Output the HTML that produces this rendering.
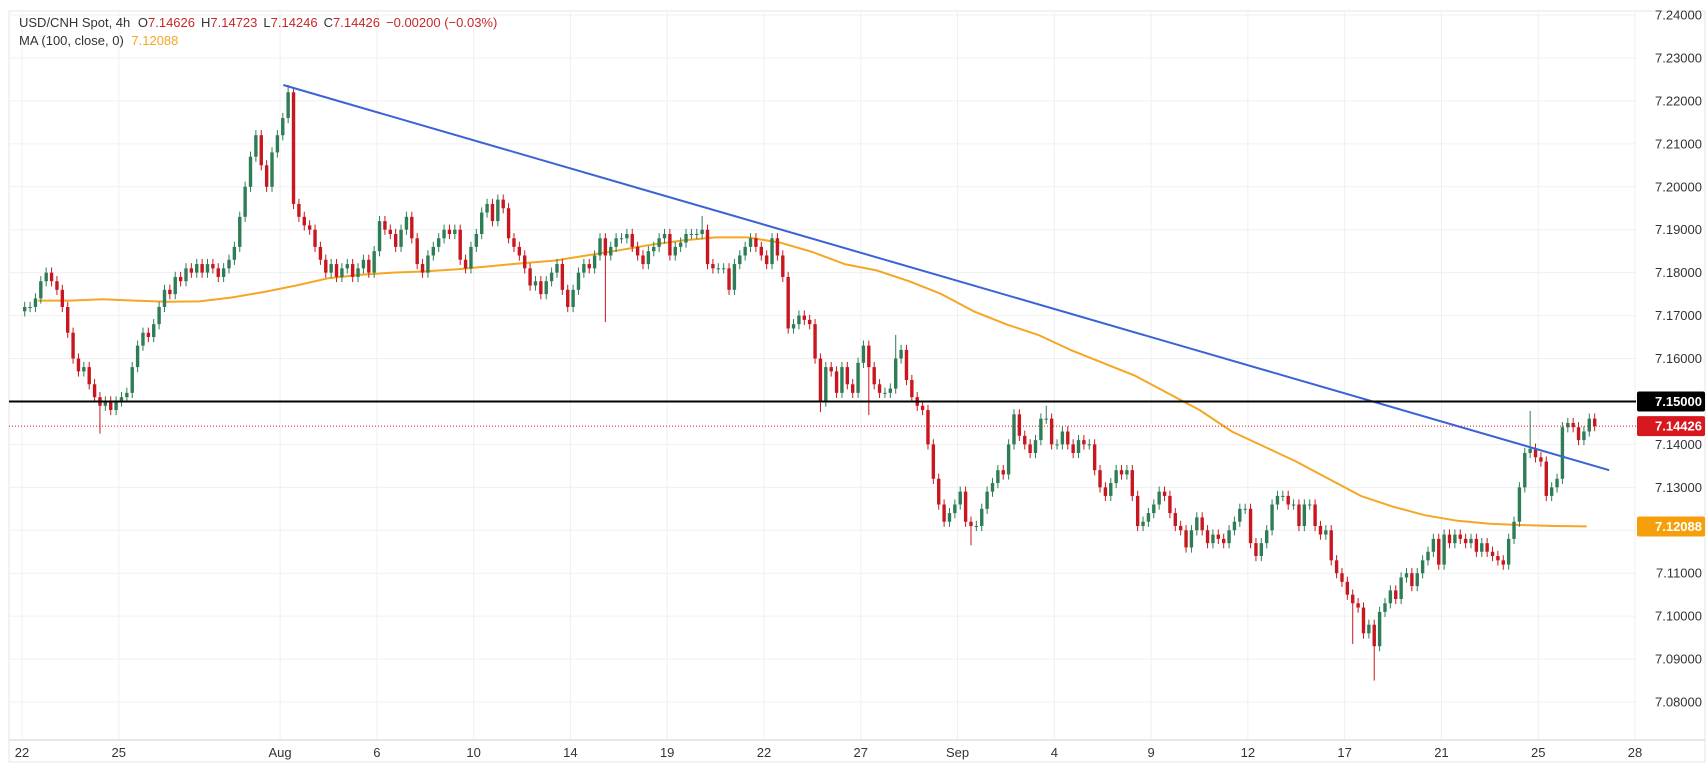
<!DOCTYPE html>
<html><head><meta charset="utf-8">
<style>
html,body{margin:0;padding:0;background:#fff;}
svg{display:block;font-family:"Liberation Sans",sans-serif;}
</style></head>
<body>
<svg id="chart" width="1708" height="778" viewBox="0 0 1708 778" xmlns="http://www.w3.org/2000/svg">
<rect x="9" y="11" width="1696" height="751" fill="#fff" stroke="#e6e6e6"/>
<g id="grid"></g>
<g id="ma"></g>
<g id="candles"></g>
<g id="lines"></g>
<g id="yaxis"></g>
<g id="xaxis"></g>
<g font-size="13">
<text x="19" y="27" fill="#333">USD/CNH Spot, 4h <tspan dx="4">O</tspan><tspan fill="#c62828">7.14626</tspan><tspan dx="6">H</tspan><tspan fill="#c62828">7.14723</tspan><tspan dx="6">L</tspan><tspan fill="#c62828">7.14246</tspan><tspan dx="6">C</tspan><tspan fill="#c62828">7.14426</tspan><tspan dx="6" fill="#c62828">−0.00200 (−0.03%)</tspan></text>
<text x="19" y="45" fill="#333">MA (100, close, 0) <tspan dx="4" fill="#f5a623">7.12088</tspan></text>
</g>
</svg>
<script>
const closes = [
7.172,7.172,7.174,7.178,7.180,7.178, 7.176,7.172,7.166,7.160,7.157,7.158,
7.154,7.151,7.149,7.150,7.148,7.150, 7.151,7.152,7.158,7.163,7.166,7.165,
7.168,7.172,7.176,7.175,7.179,7.178, 7.181,7.180,7.182,7.180,7.182,7.181,
7.179,7.181,7.183,7.186,7.193,7.200, 7.207,7.212,7.205,7.200,7.208,7.212,
7.216,7.222,7.196,7.193,7.191,7.190, 7.186,7.183,7.180,7.182,7.179,7.181,
7.182,7.179,7.181,7.183,7.180,7.185, 7.192,7.190,7.189,7.186,7.190,7.193,
7.188,7.182,7.180,7.184,7.186,7.188, 7.190,7.189,7.190,7.183,7.181,7.186,
7.189,7.194,7.196,7.192,7.197,7.195, 7.188,7.186,7.184,7.181,7.177,7.178,
7.175,7.178,7.180,7.182,7.176,7.172, 7.176,7.180,7.182,7.181,7.184,7.188,
7.184,7.186,7.188,7.188,7.189,7.186, 7.184,7.182,7.185,7.186,7.188,7.189,
7.184,7.186,7.187,7.189,7.189,7.189, 7.190,7.182,7.181,7.181,7.181,7.176,
7.182,7.184,7.186,7.188,7.186,7.184, 7.182,7.188,7.184,7.179,7.167,7.168,
7.170,7.169,7.168,7.160,7.150,7.158, 7.157,7.152,7.158,7.154,7.152,7.159,
7.163,7.158,7.154,7.152,7.152,7.153, 7.160,7.162,7.155,7.151,7.149,7.148,
7.140,7.132,7.126,7.122,7.124,7.126, 7.129,7.122,7.121,7.121,7.125,7.129,
7.131,7.134,7.133,7.140,7.147,7.142, 7.140,7.138,7.141,7.146,7.146,7.140,
7.140,7.143,7.140,7.138,7.141,7.140, 7.140,7.134,7.130,7.128,7.131,7.134,
7.133,7.134,7.128,7.121,7.122,7.124, 7.126,7.129,7.128,7.124,7.121,7.120,
7.116,7.120,7.123,7.120,7.117,7.119, 7.118,7.117,7.120,7.122,7.125,7.125,
7.117,7.114,7.117,7.120,7.126,7.128, 7.128,7.126,7.126,7.121,7.126,7.126,
7.121,7.119,7.120,7.113,7.110,7.108, 7.105,7.103,7.102,7.096,7.098,
7.093,7.101,7.103,7.106,7.104,7.109, 7.110,7.107,7.110,7.113,7.115,7.118,7.112,
7.119,7.117,7.119,7.118,7.117,7.118, 7.115,7.117,7.115,7.114,7.113,7.112,
7.118,7.122,7.130,7.138,7.139,7.137, 7.136,7.128,7.130,7.132,7.144,7.145,
7.144,7.141,7.143,7.146,7.14426
];
const firstOpen = 7.171;
// notable wick extremes: [candle index, high] / [candle index, low]
const wickHighs = [[49,7.2237],[50,7.2230],[126,7.1932],[162,7.1655],[190,7.1490],[280,7.1478]];
const wickLows = [[14,7.1425],[108,7.1685],[148,7.1475],[157,7.1468],[176,7.1165],[251,7.0850],[247,7.0935]];
const maDays = [7.1735,7.1735,7.1738,7.1735,7.1732,7.1733,7.1742,7.1755,7.1770,7.1787,7.1795,7.1800,7.1803,7.1808,7.1815,7.1822,7.1828,7.1840,7.1852,7.1865,7.1875,7.1882,7.1882,7.1870,7.1848,7.1820,7.1805,7.1780,7.1750,7.1710,7.1680,7.1655,7.1620,7.1590,7.1560,7.1520,7.1480,7.1430,7.1395,7.1360,7.1320,7.1280,7.1255,7.1235,7.1222,7.1215,7.1212,7.1210,7.1209];
const priceTicks = [7.24,7.23,7.22,7.21,7.20,7.19,7.18,7.17,7.16,7.15,7.14,7.13,7.12,7.11,7.10,7.09,7.08];
const dateLabels = ["22","25","Aug","6","10","14","19","22","27","Sep","4","9","12","17","21","25","28"];
const dateDayIdx = [0,3,8,11,14,17,20,23,26,29,32,35,38,41,44,47,50];
const trendStart = [7.2237, 8.1];  // price, day index
const trendEnd = [7.1340, 49.2];
const hLevel = 7.15, lastPrice = 7.14426, maLast = 7.12088;

const NS = "http://www.w3.org/2000/svg";
const X0 = 22, DAYW = 32.26, CW = DAYW/6;
const yOf = p => 15 + (7.24 - p) * 4294;
const xDay = d => X0 + d * DAYW;
const xCandle = i => X0 + i * CW + CW/2;
function mk(tag, attrs, parent){const e=document.createElementNS(NS,tag);for(const k in attrs)e.setAttribute(k,attrs[k]);parent.appendChild(e);return e;}

const grid = document.getElementById('grid');
priceTicks.forEach(p=>{
  const l = mk('line',{x1:9,x2:1636,y1:yOf(p),y2:yOf(p),stroke:'#f0f0f0','stroke-width':1},grid);
  
  
});
dateDayIdx.forEach(d=>{
  const l = mk('line',{x1:xDay(d),x2:xDay(d),y1:11,y2:740,stroke:'#f0f0f0','stroke-width':1},grid);
  
  
});

const ma = document.getElementById('ma');
let dma = maDays.map((v,i)=>(i===0?'M':'L')+xDay(i+0.5).toFixed(1)+','+yOf(v).toFixed(1)).join(' ');
const mp = mk('path',{d:dma,fill:'none',stroke:'#f5a623','stroke-width':2,'stroke-linejoin':'round'},ma);



const cg = document.getElementById('candles');
const hiMap = {}, loMap = {};
wickHighs.forEach(w=>hiMap[w[0]]=w[1]);
wickLows.forEach(w=>loMap[w[0]]=w[1]);
closes.forEach((c,i)=>{
  const o = i===0 ? firstOpen : closes[i-1];
  const up = c >= o;
  const col = up ? '#2f7d57' : '#c8171e';
  const hi = hiMap[i] !== undefined ? hiMap[i] : Math.max(o,c) + 0.0012;
  const lo = loMap[i] !== undefined ? loMap[i] : Math.min(o,c) - 0.0012;
  const x = xCandle(i);
  const w = mk('line',{x1:x,x2:x,y1:yOf(hi),y2:yOf(lo),stroke:col,'stroke-width':1},cg);
  
  
  const yt = yOf(Math.max(o,c)), yb = yOf(Math.min(o,c));
  const b = mk('rect',{x:x-1.7,y:yt,width:3.4,height:Math.max(1,yb-yt),fill:col},cg);
  
  
});

const lg = document.getElementById('lines');
const tl = mk('line',{x1:xDay(trendStart[1]),y1:yOf(trendStart[0]),x2:xDay(trendEnd[1]),y2:yOf(trendEnd[0]),stroke:'#3a63d6','stroke-width':2},lg);


const hl = mk('line',{x1:9,x2:1636,y1:yOf(hLevel),y2:yOf(hLevel),stroke:'#000','stroke-width':2},lg);


const dl = mk('line',{x1:9,x2:1636,y1:yOf(lastPrice),y2:yOf(lastPrice),stroke:'#c8171e','stroke-width':1,'stroke-dasharray':'1,2'},lg);



const ya = document.getElementById('yaxis');
priceTicks.forEach(p=>{
  const t = mk('text',{x:1702,y:yOf(p)+4.5,'text-anchor':'end','font-size':13,fill:'#333'},ya);
  t.textContent = p.toFixed(5);
  
  
});
[[hLevel,'#000'],[lastPrice,'#d8181f'],[maLast,'#f5a00a']].forEach(a=>{
  const y = yOf(a[0]);
  const r = mk('rect',{x:1637,y:y-10,width:68,height:20,rx:2,fill:a[1]},ya);
  
  
  const t = mk('text',{x:1702,y:y+4.5,'text-anchor':'end','font-size':13,'font-weight':'bold',fill:'#fff'},ya);
  t.textContent = a[0].toFixed(5);
  
  
});

const xa = document.getElementById('xaxis');
const al = mk('line',{x1:9,x2:1705,y1:740,y2:740,stroke:'#e0e0e0','stroke-width':1.5},xa);


dateLabels.forEach((s,i)=>{
  const t = mk('text',{x:xDay(dateDayIdx[i]),y:757,'text-anchor':'middle','font-size':13,fill:'#333'},xa);
  t.textContent = s;
  
  
});
</script>
</body></html>
